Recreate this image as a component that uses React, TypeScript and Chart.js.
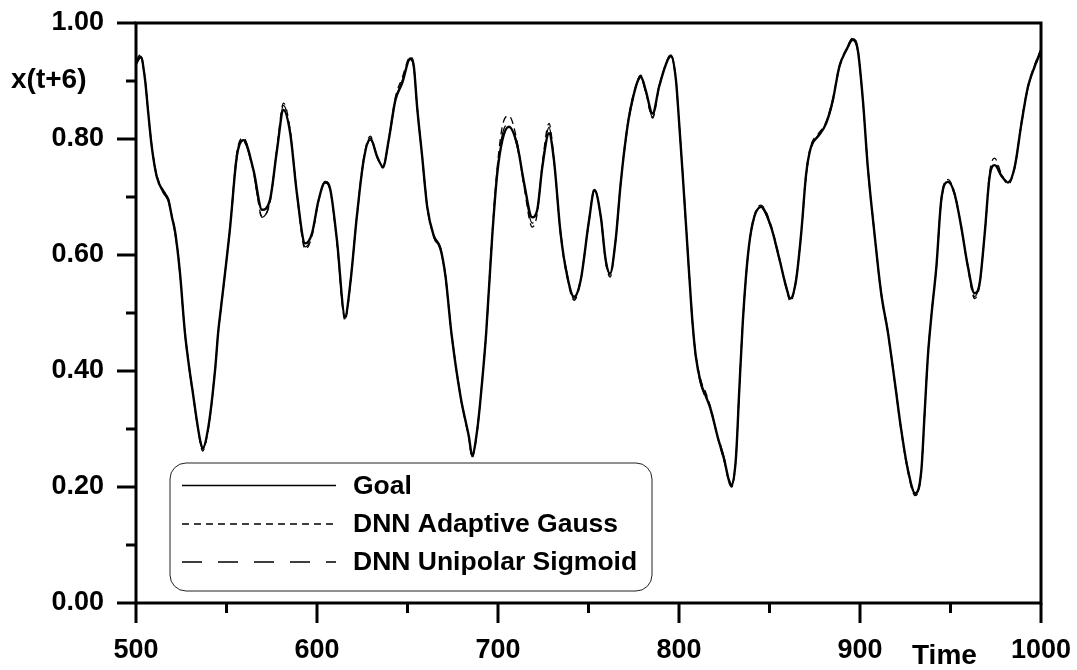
import React, { useEffect, useRef } from 'react';
import { Chart, registerables } from 'chart.js';
Chart.register(...registerables);

const TIME = [500, 502.6, 505, 506.8, 508.7, 511.5, 515.1, 517.9, 519.8, 521.6,
  524.3, 527, 531.7, 535.4, 536.8, 540, 543.7, 545.5, 547, 552,
  555.7, 559.4, 565, 569.6, 574, 577.9, 581.5, 585.2, 588.9, 593.5,
  597.2, 600.9, 604.6, 607.4, 611, 615.5, 618.4, 622, 625.8, 629.5,
  633.2, 636.5, 639.6, 643.3, 647, 651.6, 653.5, 655.3, 658.1, 660.9,
  664.6, 668.2, 671, 674.2, 679.3, 683.9, 685.7, 688.5, 691.3, 693.5,
  696.8, 699.6, 702.4, 706, 710.6, 714.3, 718.9, 721.7, 724.5, 728.2,
  730.9, 734.6, 738.3, 742, 745.7, 750.3, 753.3, 756.8, 759.5, 761.9,
  765, 767.8, 771.5, 775.2, 778.9, 781.6, 785.4, 789, 792.7, 795.5,
  798.3, 800.1, 802, 803.8, 805.6, 807.5, 809.3, 812.1, 814.9, 817.6,
  821.3, 825, 827.8, 829.1, 831.5, 833.3, 835.2, 838, 840.7, 845.3,
  850.8, 855.4, 859.2, 861.5, 864.7, 867.5, 870.3, 873, 876.7, 881.3,
  885, 888.6, 892.4, 896, 898.8, 901.6, 904.3, 908, 911.7, 915.4,
  919.1, 922.8, 926.5, 930.5, 933.9, 935.7, 937.5, 939.6, 942.2, 944.9,
  948.6, 952.2, 955.9, 959.6, 963.3, 966.1, 968.9, 971.6, 974.4, 978.1,
  981.8, 985.5, 989.2, 992.8, 996.5, 1000];

const GOAL = [0.930, 0.942, 0.902, 0.844, 0.787, 0.735, 0.709, 0.695, 0.666, 0.640,
  0.569, 0.467, 0.356, 0.281, 0.267, 0.304, 0.402, 0.470, 0.510, 0.648,
  0.770, 0.798, 0.745, 0.678, 0.695, 0.781, 0.850, 0.810, 0.706, 0.620,
  0.637, 0.695, 0.726, 0.712, 0.626, 0.494, 0.551, 0.666, 0.764, 0.801,
  0.770, 0.752, 0.798, 0.867, 0.896, 0.939, 0.925, 0.856, 0.770, 0.683,
  0.632, 0.611, 0.563, 0.467, 0.356, 0.287, 0.255, 0.298, 0.384, 0.467,
  0.632, 0.741, 0.798, 0.821, 0.790, 0.726, 0.665, 0.678, 0.752, 0.810,
  0.764, 0.637, 0.563, 0.528, 0.557, 0.660, 0.712, 0.666, 0.591, 0.568,
  0.626, 0.724, 0.821, 0.879, 0.908, 0.884, 0.844, 0.890, 0.928, 0.944,
  0.902, 0.827, 0.741, 0.655, 0.568, 0.482, 0.425, 0.379, 0.356, 0.333,
  0.287, 0.247, 0.209, 0.203, 0.252, 0.367, 0.482, 0.597, 0.655, 0.683,
  0.649, 0.594, 0.545, 0.525, 0.557, 0.637, 0.741, 0.787, 0.804, 0.827,
  0.867, 0.925, 0.953, 0.972, 0.953, 0.867, 0.752, 0.637, 0.534, 0.467,
  0.384, 0.298, 0.229, 0.189, 0.229, 0.327, 0.425, 0.500, 0.580, 0.695,
  0.726, 0.706, 0.649, 0.580, 0.534, 0.551, 0.637, 0.735, 0.755, 0.737,
  0.725, 0.752, 0.827, 0.890, 0.925, 0.953];

const GAUSS = [0.935, 0.946, 0.905, 0.846, 0.790, 0.738, 0.712, 0.697, 0.668, 0.642,
  0.571, 0.470, 0.358, 0.278, 0.262, 0.300, 0.400, 0.468, 0.508, 0.650,
  0.776, 0.802, 0.742, 0.667, 0.690, 0.785, 0.862, 0.815, 0.704, 0.610,
  0.632, 0.693, 0.728, 0.710, 0.622, 0.487, 0.548, 0.668, 0.768, 0.805,
  0.768, 0.750, 0.800, 0.872, 0.905, 0.942, 0.926, 0.854, 0.772, 0.685,
  0.630, 0.609, 0.560, 0.465, 0.354, 0.284, 0.250, 0.295, 0.384, 0.470,
  0.638, 0.752, 0.822, 0.840, 0.795, 0.720, 0.648, 0.672, 0.758, 0.827,
  0.766, 0.634, 0.560, 0.522, 0.555, 0.662, 0.715, 0.664, 0.587, 0.562,
  0.624, 0.726, 0.824, 0.882, 0.910, 0.882, 0.836, 0.888, 0.930, 0.946,
  0.904, 0.828, 0.740, 0.652, 0.566, 0.480, 0.428, 0.384, 0.362, 0.336,
  0.285, 0.244, 0.206, 0.200, 0.250, 0.366, 0.480, 0.595, 0.657, 0.686,
  0.652, 0.596, 0.543, 0.520, 0.555, 0.640, 0.745, 0.790, 0.808, 0.830,
  0.870, 0.927, 0.955, 0.974, 0.955, 0.868, 0.750, 0.635, 0.532, 0.465,
  0.382, 0.295, 0.225, 0.185, 0.226, 0.325, 0.424, 0.500, 0.582, 0.698,
  0.730, 0.708, 0.650, 0.578, 0.525, 0.548, 0.640, 0.742, 0.767, 0.740,
  0.722, 0.750, 0.830, 0.892, 0.928, 0.955];

const SIGMOID = [0.928, 0.940, 0.900, 0.842, 0.786, 0.733, 0.707, 0.692, 0.664, 0.637,
  0.566, 0.464, 0.353, 0.279, 0.265, 0.302, 0.404, 0.472, 0.512, 0.646,
  0.766, 0.795, 0.740, 0.665, 0.692, 0.783, 0.858, 0.812, 0.708, 0.614,
  0.634, 0.697, 0.724, 0.710, 0.624, 0.490, 0.553, 0.664, 0.762, 0.798,
  0.772, 0.754, 0.796, 0.865, 0.900, 0.937, 0.923, 0.858, 0.768, 0.681,
  0.634, 0.613, 0.565, 0.470, 0.358, 0.285, 0.252, 0.300, 0.386, 0.465,
  0.630, 0.745, 0.808, 0.826, 0.786, 0.723, 0.655, 0.676, 0.754, 0.820,
  0.762, 0.640, 0.566, 0.524, 0.559, 0.658, 0.710, 0.668, 0.593, 0.565,
  0.628, 0.722, 0.818, 0.876, 0.906, 0.880, 0.838, 0.892, 0.926, 0.942,
  0.900, 0.825, 0.744, 0.658, 0.570, 0.484, 0.422, 0.376, 0.352, 0.330,
  0.290, 0.250, 0.212, 0.204, 0.255, 0.368, 0.484, 0.599, 0.653, 0.681,
  0.647, 0.592, 0.547, 0.522, 0.559, 0.635, 0.738, 0.784, 0.806, 0.825,
  0.865, 0.923, 0.951, 0.970, 0.951, 0.865, 0.754, 0.639, 0.536, 0.469,
  0.386, 0.300, 0.231, 0.187, 0.231, 0.329, 0.427, 0.502, 0.578, 0.692,
  0.724, 0.704, 0.647, 0.582, 0.528, 0.553, 0.635, 0.733, 0.760, 0.735,
  0.727, 0.754, 0.825, 0.888, 0.923, 0.950];

const SERIES_NAMES = ['Goal', 'DNN Adaptive Gauss', 'DNN Unipolar Sigmoid'];
const X_TITLE = 'Time';
const Y_TITLE = 'x(t+6)';
const X_MIN = 500, X_MAX = 1000, X_STEP = 50, X_LABEL_EVERY = 100;
const Y_MIN = 0, Y_MAX = 1, Y_STEP = 0.1;

const FONT = "'Liberation Sans', Arial, Helvetica, sans-serif";

const toPoints = (ys: number[]) => TIME.map((t, i) => ({ x: t, y: ys[i] }));

const decorPlugin = {
  id: 'decor',
  afterDraw(chart: any) {
    const { ctx, chartArea: a, scales } = chart;
    const xs = scales.x, ys = scales.y;
    ctx.save();
    ctx.strokeStyle = '#000';
    ctx.lineCap = 'butt';
    ctx.lineWidth = 3;
    ctx.strokeRect(a.left, a.top, a.right - a.left, a.bottom - a.top);
    for (let i = 0; i <= Math.round((Y_MAX - Y_MIN) / Y_STEP); i++) {
      const v = Y_MIN + i * Y_STEP;
      const py = ys.getPixelForValue(v);
      const len = i % 2 === 0 ? 19 : 10;
      ctx.beginPath();
      ctx.moveTo(a.left - len, py);
      ctx.lineTo(a.left, py);
      ctx.stroke();
    }
    for (let v = X_MIN; v <= X_MAX; v += X_STEP) {
      const px = xs.getPixelForValue(v);
      const len = v % X_LABEL_EVERY === 0 ? 20 : 10;
      ctx.beginPath();
      ctx.moveTo(px, a.bottom);
      ctx.lineTo(px, a.bottom + len);
      ctx.stroke();
    }
    ctx.fillStyle = '#000';
    ctx.font = `bold 28px ${FONT}`;
    ctx.textBaseline = 'middle';
    ctx.textAlign = 'left';
    ctx.fillText(Y_TITLE, 11, 80);
    ctx.fillText(X_TITLE, 912, 656);
    const bx = 170, by = 463, bw = 482, bh = 128, r = 16;
    ctx.lineWidth = 1;
    ctx.strokeStyle = '#222';
    ctx.beginPath();
    ctx.moveTo(bx + r, by);
    ctx.lineTo(bx + bw - r, by);
    ctx.arcTo(bx + bw, by, bx + bw, by + r, r);
    ctx.lineTo(bx + bw, by + bh - r);
    ctx.arcTo(bx + bw, by + bh, bx + bw - r, by + bh, r);
    ctx.lineTo(bx + r, by + bh);
    ctx.arcTo(bx, by + bh, bx, by + bh - r, r);
    ctx.lineTo(bx, by + r);
    ctx.arcTo(bx, by, bx + r, by, r);
    ctx.closePath();
    ctx.stroke();
    const rows = [485.5, 524, 562];
    ctx.font = `bold 26.5px ${FONT}`;
    chart.data.datasets.forEach((ds: any, i: number) => {
      const y = rows[i];
      ctx.strokeStyle = '#000';
      ctx.lineWidth = 1.5;
      ctx.setLineDash(ds.borderDash || []);
      ctx.beginPath();
      ctx.moveTo(182, y);
      ctx.lineTo(336, y);
      ctx.stroke();
      ctx.setLineDash([]);
      ctx.fillText(ds.label, 353, y + 1);
    });
    ctx.restore();
  },
};

export default function App() {
  const ref = useRef<HTMLCanvasElement>(null);
  useEffect(() => {
    if (!ref.current) return;
    const chart = new Chart(ref.current, {
      type: 'line',
      data: {
        datasets: [
          { label: SERIES_NAMES[0], data: toPoints(GOAL), borderColor: '#000', borderWidth: 2.4, borderDash: [] as number[] },
          { label: SERIES_NAMES[1], data: toPoints(GAUSS), borderColor: '#000', borderWidth: 1.3, borderDash: [7, 5] },
          { label: SERIES_NAMES[2], data: toPoints(SIGMOID), borderColor: '#000', borderWidth: 1.3, borderDash: [20, 16] },
        ],
      },
      options: {
        animation: false,
        responsive: false,
        elements: { point: { radius: 0 }, line: { cubicInterpolationMode: 'monotone', fill: false } },
        layout: { padding: { left: 0, top: 23, right: 36, bottom: 0 } },
        plugins: { legend: { display: false }, tooltip: { enabled: false }, title: { display: false } },
        scales: {
          x: {
            type: 'linear',
            min: X_MIN,
            max: X_MAX,
            grid: { display: true, drawOnChartArea: false, drawTicks: true, tickLength: 28, tickColor: 'rgba(0,0,0,0)' },
            border: { display: false },
            ticks: {
              stepSize: X_STEP,
              autoSkip: false,
              maxRotation: 0,
              padding: 3,
              color: '#000',
              font: { family: FONT, size: 27, weight: 'bold' },
              callback: (v: any) => (Number(v) % X_LABEL_EVERY === 0 ? String(v) : ''),
            },
            afterFit: (s: any) => { s.height = 67; },
          },
          y: {
            type: 'linear',
            min: Y_MIN,
            max: Y_MAX,
            grid: { display: true, drawOnChartArea: false, drawTicks: true, tickLength: 28, tickColor: 'rgba(0,0,0,0)' },
            border: { display: false },
            ticks: {
              stepSize: Y_STEP,
              autoSkip: false,
              padding: 4,
              color: '#000',
              font: { family: FONT, size: 27, weight: 'bold' },
              callback: (v: any) => (Math.round(Number(v) * 10) % 2 === 0 ? Number(v).toFixed(2) : ''),
            },
            afterFit: (s: any) => { s.width = 136; },
          },
        },
      },
      plugins: [decorPlugin],
    } as any);
    return () => chart.destroy();
  }, []);
  return (
    <div style={{ position: 'absolute', left: 0, top: 0, width: 1077, height: 670, background: '#fff' }}>
      <canvas ref={ref} width={1077} height={670} style={{ display: 'block' }} />
    </div>
  );
}
